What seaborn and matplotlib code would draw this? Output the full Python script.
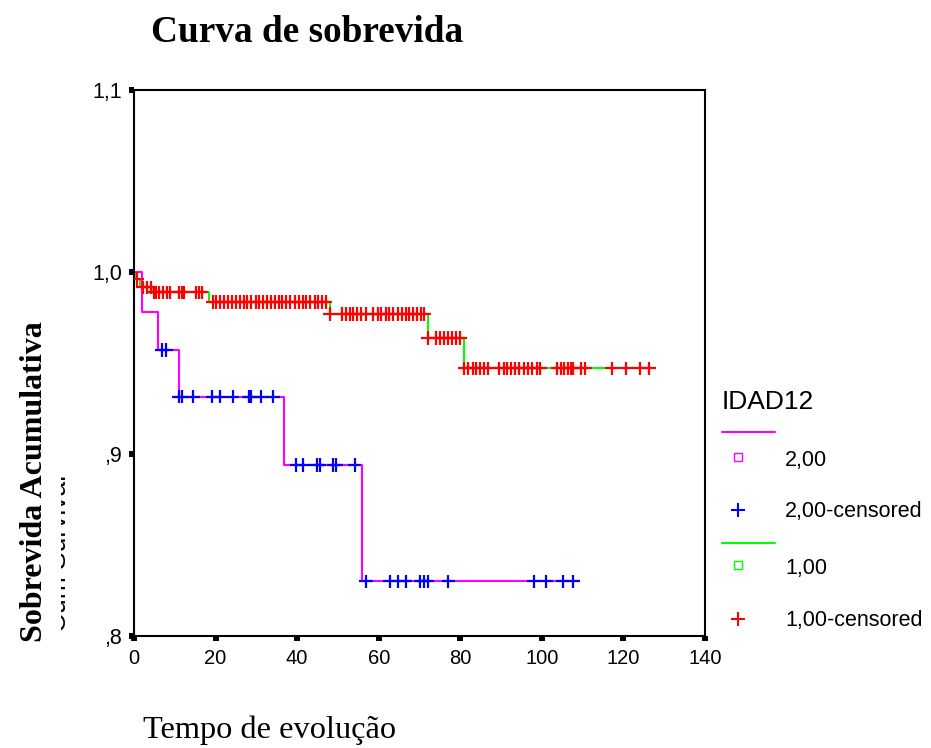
import matplotlib
matplotlib.use("Agg")
import matplotlib.pyplot as plt
from matplotlib.lines import Line2D
from matplotlib.patches import Rectangle
import seaborn as sns
import pandas as pd
import numpy as np

sns.set_style("ticks")
plt.rcParams["font.family"] = ["Liberation Sans", "DejaVu Sans"]
plt.rcParams["text.color"] = "black"

# survival steps (time where the level starts, level) - IDAD12 = 2,00
g2_times = [0, 2.0, 6.0, 11.0, 36.8, 56.0]
g2_surv = [1.0, 0.978, 0.957, 0.9315, 0.894, 0.830]
g2_cens = [6.8, 7.8, 11.0, 11.7, 14.4, 19.2, 21.0, 24.2, 28.1, 28.8, 31.1, 34.1,
           39.8, 41.4, 44.9, 45.5, 48.9, 49.6, 54.1,
           56.9, 62.7, 64.7, 66.6, 70.2, 71.0, 72.0, 77.1, 98.0, 101.0, 105.1, 107.6]

# IDAD12 = 1,00
g1_times = [0, 0.3, 1.5, 4.5, 18.3, 48.0, 72.0, 80.8]
g1_surv = [1.0, 0.9962, 0.9916, 0.9888, 0.9834, 0.9768, 0.9636, 0.9471]
g1_cens = [0.8, 2.1, 3.1, 4.1,
           4.9, 5.4, 6.1, 7.2, 8.0, 8.8, 11.1, 11.7, 12.2, 15.3, 15.9, 16.6,
           19.3, 20.2, 21.2, 22.1, 23.0, 24.0, 24.9, 25.9, 26.9, 27.8, 28.8, 29.8,
           30.6, 31.6, 32.6, 33.7, 34.6, 35.5, 36.4, 37.3, 38.3, 39.4, 40.4, 41.4,
           42.2, 43.2, 44.3, 45.1, 46.1, 47.0,
           48.0, 51.1, 51.9, 52.9, 53.7, 54.7, 55.7, 56.8, 58.7, 59.8, 60.6, 61.7,
           62.6, 63.6, 64.7, 65.8, 66.7, 67.5, 68.5, 69.4, 70.3, 71.2,
           72.0, 74.1, 75.0, 75.9, 76.9, 77.9, 79.0, 80.0,
           81.0, 82.0, 83.0, 83.9, 84.8, 85.9, 86.9, 89.6, 90.6, 91.5, 92.4, 93.5,
           94.5, 95.5, 96.5, 97.6, 98.7, 99.6,
           103.8, 104.6, 105.5, 106.5, 107.1, 107.7, 109.7, 110.6, 117.2, 120.6, 124.0, 126.3]

groups = ["2,00", "1,00"]
line_colors = {"2,00": "#FF00FF", "1,00": "#00FF00"}
cross_colors = {"2,00": "#0000FF", "1,00": "#FF0000"}

x_ticks = [0, 20, 40, 60, 80, 100, 120, 140]
y_ticks = [0.8, 0.9, 1.0, 1.1]
y_tick_labels = [",8", ",9", "1,0", "1,1"]

# build tables
step_rows, cens_rows = [], []
for g, t, s, c in [("2,00", g2_times, g2_surv, g2_cens), ("1,00", g1_times, g1_surv, g1_cens)]:
    for ti, si in zip(t + [max(c)], s + [s[-1]]):
        step_rows.append({"time": ti, "surv": si, "group": g})
    idx = np.searchsorted(t, c, side="right") - 1
    for ci, i in zip(c, idx):
        cens_rows.append({"time": ci, "surv": s[i], "group": g})
steps = pd.DataFrame(step_rows)
cens = pd.DataFrame(cens_rows)

W, H = 931, 748
fig = plt.figure(figsize=(W / 100, H / 100), dpi=100)
ax = fig.add_axes([134 / W, 1 - 636 / H, (705 - 134) / W, (636 - 90) / H])

sns.lineplot(data=steps, x="time", y="surv", hue="group", hue_order=["1,00", "2,00"],
             palette=line_colors, drawstyle="steps-post", estimator=None,
             legend=False, linewidth=1.5, ax=ax)
sns.scatterplot(data=cens, x="time", y="surv", hue="group", palette=cross_colors,
                marker="+", s=95, linewidth=1.6, legend=False, ax=ax, zorder=3)

ax.set_xlim(0, 140)
ax.set_ylim(0.8, 1.1)
ax.set_xticks(x_ticks)
ax.set_xticklabels([str(v) for v in x_ticks])
ax.set_yticks(y_ticks)
ax.set_yticklabels(y_tick_labels)
ax.tick_params(direction="out", length=3.5, width=4.3, colors="black")
ax.tick_params(axis="x", pad=6, bottom=True, labelsize=14.5)
ax.tick_params(axis="y", pad=5, left=True, labelsize=15.5)
ax.set_xlabel("")
ax.set_ylabel("")
for sp in ax.spines.values():
    sp.set_visible(True)
    sp.set_linewidth(1.5)
    sp.set_color("black")


def fx(x):
    return x / W


def fy(y):
    return 1 - y / H


# titles
fig.text(fx(306.7), fy(41.7), "Curva de sobrevida", family="Liberation Serif",
         weight="bold", fontsize=26.8, ha="center", va="baseline")
fig.text(fx(143.3), fy(738.3), "Tempo de evolução", family="Liberation Serif",
         fontsize=23.3, ha="left", va="baseline")

# y axis title (with the half-hidden default one behind it)
fig.text(fx(66), fy(632), "Cum Survival", fontsize=19, rotation=90,
         rotation_mode="anchor", ha="left", va="baseline", zorder=1)
fig.add_artist(Rectangle((0, fy(650)), fx(60.5), fy(440) - fy(650),
                         transform=fig.transFigure, facecolor="white",
                         edgecolor="none", zorder=2))
fig.text(fx(42), fy(481.5), "Sobrevida Acumulativa", family="Liberation Serif",
         weight="bold", fontsize=23, rotation=90, rotation_mode="anchor",
         ha="center", va="baseline", zorder=3)

# legend
fig.text(fx(722), fy(402), "IDAD12", fontsize=19, ha="left", va="center")
leg_rows = [("2,00", 432.3, 457.3, 460.7, 510.0, 511.7),
            ("1,00", 542.7, 565.0, 568.3, 619.3, 620.7)]
for g, y_line, y_sq, y_lab, y_cross, y_clab in leg_rows:
    fig.add_artist(Line2D([fx(722), fx(775)], [fy(y_line)] * 2, transform=fig.transFigure,
                          color=line_colors[g], linewidth=1.5))
    fig.add_artist(Line2D([fx(738.3)], [fy(y_sq)], transform=fig.transFigure, marker="s",
                          markersize=6.2, markerfacecolor="none", markeredgewidth=1.0,
                          markeredgecolor=line_colors[g], linestyle="none"))
    fig.text(fx(785), fy(y_lab), g, fontsize=15.5, ha="left", va="center")
    fig.add_artist(Line2D([fx(738.3)], [fy(y_cross)], transform=fig.transFigure, marker="+",
                          markersize=9.5, markeredgewidth=1.5,
                          markeredgecolor=cross_colors[g], linestyle="none"))
    fig.text(fx(785), fy(y_clab), g + "-censored", fontsize=15.5, ha="left", va="center")

fig.savefig("out.png", dpi=100, facecolor="white")
